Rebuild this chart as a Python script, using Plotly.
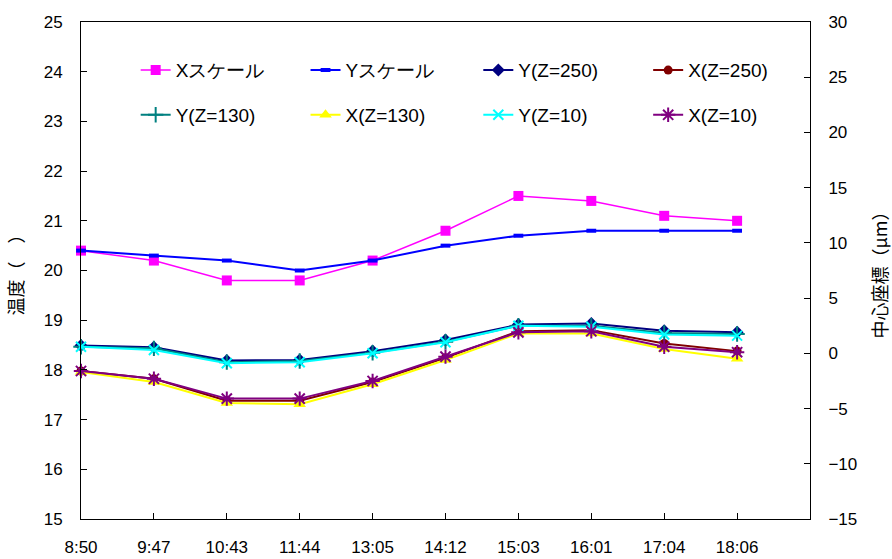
import plotly.graph_objects as go

# measurement times
times = ["8:50", "9:47", "10:43", "11:44", "13:05", "14:12", "15:03", "16:01", "17:04", "18:06"]

# scale temperatures (left axis, deg C)
x_scale = [20.4, 20.2, 19.8, 19.8, 20.2, 20.8, 21.5, 21.4, 21.1, 21.0]
y_scale = [20.4, 20.3, 20.2, 20.0, 20.2, 20.5, 20.7, 20.8, 20.8, 20.8]

# centre coordinates (right axis, um)
y_z250 = [0.7, 0.55, -0.65, -0.6, 0.2, 1.2, 2.6, 2.7, 2.05, 1.9]
x_z250 = [-1.6, -2.3, -4.3, -4.3, -2.6, -0.4, 2.0, 2.1, 0.9, 0.2]
y_z130 = [0.6, 0.45, -0.8, -0.7, 0.05, 1.05, 2.5, 2.5, 1.85, 1.75]
x_z130 = [-1.7, -2.6, -4.5, -4.6, -2.8, -0.6, 1.8, 1.8, 0.4, -0.5]
y_z10 = [0.6, 0.3, -0.9, -0.8, 0.0, 1.0, 2.5, 2.4, 1.7, 1.6]
x_z10 = [-1.6, -2.3, -4.1, -4.1, -2.5, -0.3, 1.9, 2.0, 0.6, 0.1]

FONT = "Liberation Sans, Arial, sans-serif"
CJK = "Noto Sans CJK JP, sans-serif"

fig = go.Figure()

# legend slots: 4 columns x 2 rows inside the plot area
col_x = [0.075, 0.308, 0.545, 0.778]
row_y = [0.903, 0.813]
legend_cfg = {}


def add(idx, name, ys, color, symbol, size, lw, axis, mlw=0):
    key = "legend" if idx == 0 else f"legend{idx + 1}"
    fig.add_trace(go.Scatter(
        x=times, y=ys, name=name, mode="lines+markers",
        line=dict(color=color, width=lw),
        marker=dict(symbol=symbol, size=size, color=color,
                    line=dict(color=color, width=mlw)),
        yaxis=axis, legend=key, cliponaxis=False,
    ))
    legend_cfg[key] = dict(
        x=col_x[idx % 4], y=row_y[idx // 4],
        xanchor="left", yanchor="middle",
        font=dict(family=FONT, size=19, color="#000"),
        bgcolor="rgba(0,0,0,0)", itemclick=False, itemdoubleclick=False,
    )


add(0, "Xスケール", x_scale, "#FF00FF", "square", 10, 1.5, "y")
add(1, "Yスケール", y_scale, "#0000FF", "line-ew", 7, 2, "y", mlw=4)
add(2, "Y(Z=250)", y_z250, "#000080", "diamond", 10, 2, "y2")
add(3, "X(Z=250)", x_z250, "#800000", "circle", 9, 2, "y2")
add(4, "Y(Z=130)", y_z130, "#008080", "cross-thin", 11, 2, "y2", mlw=2)
add(5, "X(Z=130)", x_z130, "#FFFF00", "triangle-up", 11, 2, "y2")
add(6, "Y(Z=10)", y_z10, "#00FFFF", "x-thin", 10, 2, "y2", mlw=2)
add(7, "X(Z=10)", x_z10, "#800080", "asterisk", 12, 2, "y2", mlw=2)

fig.update_layout(
    width=892, height=559,
    margin=dict(l=81, r=82, t=22, b=40),
    paper_bgcolor="white", plot_bgcolor="white",
    font=dict(family=FONT, size=17, color="#000"),
    showlegend=True,
    **legend_cfg,
    xaxis=dict(
        type="category", range=[0, 10], automargin=False,
        showline=True, linecolor="#000", linewidth=1, mirror=True,
        ticks="inside", ticklen=6, tickcolor="#000",
        ticklabelstandoff=13, showgrid=False, zeroline=False,
        tickfont=dict(family=FONT, size=17),
    ),
    yaxis=dict(
        range=[15, 25], dtick=1, automargin=False,
        showline=True, linecolor="#000", linewidth=1,
        ticks="inside", ticklen=6, tickcolor="#000",
        ticklabelstandoff=14, showgrid=False, zeroline=False,
        tickfont=dict(family=FONT, size=17),
        title=dict(text="温度（　）", font=dict(family=CJK, size=18), standoff=15),
    ),
    yaxis2=dict(
        range=[-15, 30], dtick=5, overlaying="y", side="right", automargin=False,
        showline=True, linecolor="#000", linewidth=1,
        ticks="inside", ticklen=6, tickcolor="#000",
        ticklabelstandoff=14, showgrid=False, zeroline=False,
        tickfont=dict(family=FONT, size=17),
        title=dict(text="中心座標（μm）", font=dict(family=CJK, size=18), standoff=20),
    ),
)

fig.write_html("out.html")
